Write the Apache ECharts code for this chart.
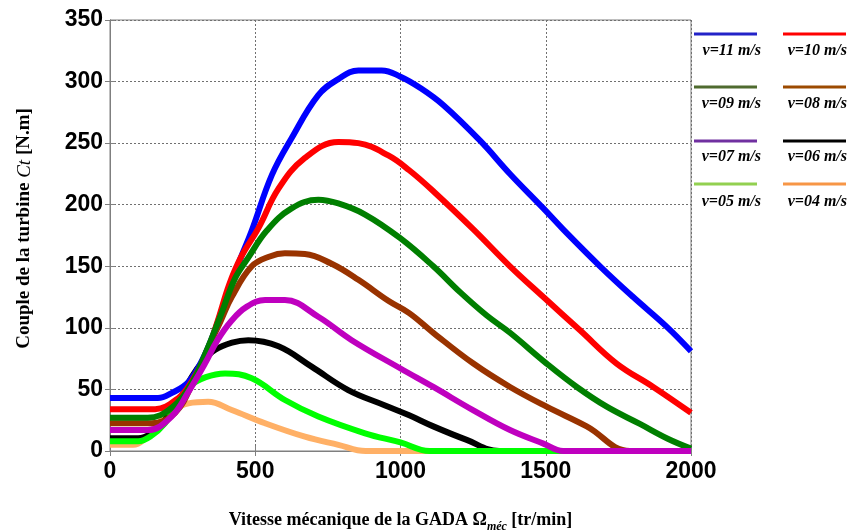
<!DOCTYPE html>
<html>
<head>
<meta charset="utf-8">
<script src="https://cdn.jsdelivr.net/npm/echarts@6/dist/echarts.min.js"></script>
<style>
html,body{margin:0;padding:0;background:#fff;}
#chart{width:849px;height:531px;}
</style>
</head>
<body>
<div id="chart"></div>
<script>
// Data (speed tr/min, torque N.m)
var xTicks = [0, 500, 1000, 1500, 2000];
var yTicks = [0, 50, 100, 150, 200, 250, 300, 350];
var seriesNames = ['v=11 m/s','v=10 m/s','v=09 m/s','v=08 m/s','v=07 m/s','v=06 m/s','v=05 m/s','v=04 m/s'];
var v11 = [[0,43],[100,43],[165,43],[212,47],[270,56],[320,75],[361,98],[400,125],[442,152],[488,179],[557,224],[625,254],[717,289],[786,302],[855,309],[935,309],[1000,304],[1067,295],[1147,281],[1274,252],[1377,225],[1492,197],[1560,180],[1687,150],[1801,125],[1916,101],[2000,81]];
var v10 = [[0,34],[100,34],[155,34],[235,43],[280,56],[330,78],[370,105],[410,135],[450,157],[511,181],[580,213],[671,238],[786,251],[855,250],[958,240],[1030,228],[1113,211],[1251,180],[1377,150],[1492,125],[1618,98],[1744,71],[1870,52],[2000,31]];
var v09 = [[0,27],[130,27],[212,35],[281,55],[330,80],[384,112],[430,140],[476,157],[540,179],[625,197],[717,204],[786,201],[878,192],[998,173],[1113,150],[1205,129],[1297,110],[1377,96],[1503,71],[1607,52],[1710,36],[1824,22],[1920,10],[2000,2]];
var v08 = [[0,22.5],[143,22.5],[224,31],[290,58],[340,85],[380,105],[419,125],[488,150],[550,158],[602,160.5],[671,160],[763,152],[855,139],[958,122],[1030,112],[1113,96],[1251,71],[1377,52],[1503,36],[1641,20],[1790,0],[2000,0]];
var v07 = [[0,17],[130,17],[212,28],[270,48],[327,71],[370,90],[419,106],[470,117],[534,122.6],[602,122.6],[717,109],[832,90],[1000,67],[1113,52],[1251,33],[1377,17],[1492,6],[1560,0],[2000,0]];
var v06 = [[0,10.3],[97,10.3],[140,14],[189,25],[240,42],[281,60],[320,73],[361,82],[420,88],[476,90],[580,85],[694,68.5],[820,49.5],[947,37],[1030,29],[1113,20],[1228,9],[1340,0],[2000,0]];
var v05 = [[0,8],[97,8],[140,12],[189,22.5],[230,38],[270,52],[330,60],[396,63],[488,59],[602,41.4],[717,28],[878,14.4],[1000,7],[1100,0],[2000,0]];
var v04 = [[0,5],[80,5],[120,10],[155,19.7],[210,32],[270,38.7],[338,40],[419,33.3],[534,22.5],[671,11.6],[786,5],[880,0],[2000,0]];

var lineColors = ['#0000ff','#ff0000','#007f00','#993300','#bf00bf','#000000','#00ff00','#ffb066'];
var legendColors = ['#2323c8','#ff0000','#4f6b2f','#9c4a00','#7030a0','#000000','#92d050','#f79646'];
var allData = [v11, v10, v09, v08, v07, v06, v05, v04];
// drawing order (bottom to top)
var drawOrder = [7, 5, 6, 3, 0, 1, 2, 4];

var chart = echarts.init(document.getElementById('chart'), null, {renderer: 'canvas'});

var series = drawOrder.map(function (i) {
  return {
    name: seriesNames[i],
    type: 'line',
    data: allData[i],
    showSymbol: false,
    smooth: 0.4,
    lineStyle: {color: lineColors[i], width: 6},
    itemStyle: {color: lineColors[i]},
    z: 2
  };
});

// legend drawn as graphic elements
var graphics = [];
var legX = [694, 783];
var legTextRight = [761, 847];
var legLineY = [34, 87, 141, 184];
var legTextY = [51, 104, 157, 202];
for (var k = 0; k < 8; k++) {
  var col = k % 2, row = Math.floor(k / 2);
  graphics.push({
    type: 'rect',
    z: 100,
    shape: {x: legX[col], y: legLineY[row] - 1.5, width: 63, height: 3},
    style: {fill: legendColors[k]}
  });
  graphics.push({
    type: 'text',
    z: 100,
    x: legTextRight[col],
    y: legTextY[row],
    style: {
      text: seriesNames[k],
      fontFamily: '"Liberation Serif", serif',
      fontStyle: 'italic',
      fontWeight: 'bold',
      fontSize: 16,
      fill: '#000',
      align: 'right',
      verticalAlign: 'middle'
    }
  });
}

var axisLineStyle = {color: '#7f7f7f', width: 1};
var labelFont = {color: '#000', fontSize: 23, fontWeight: 'bold', fontFamily: '"Liberation Sans", Arial, sans-serif',
  formatter: function (v) { return String(v); }};

chart.setOption({
  animation: false,
  backgroundColor: '#ffffff',
  grid: {left: 110, right: 158, top: 20, bottom: 80, containLabel: false, outerBoundsMode: 'none',
    show: true, borderColor: '#7f7f7f', borderWidth: 1, backgroundColor: '#fff'},
  xAxis: [{
    type: 'value', min: xTicks[0], max: xTicks[xTicks.length - 1], interval: 500,
    axisLine: {show: true, lineStyle: axisLineStyle},
    axisTick: {show: true, inside: true, length: 5, lineStyle: axisLineStyle},
    axisLabel: Object.assign({margin: 9}, labelFont),
    splitLine: {show: true, lineStyle: {color: '#707070', type: [2, 2], width: 1}},
    name: '{b|Vitesse mécanique de la GADA Ω}{s|méc}{b| [tr/min]}',
    nameLocation: 'middle', nameGap: 56,
    nameTextStyle: {
      rich: {
        b: {fontFamily: '"Liberation Serif", serif', fontWeight: 'bold', fontSize: 18, color: '#000', verticalAlign: 'bottom', lineHeight: 22},
        s: {fontFamily: '"Liberation Serif", serif', fontWeight: 'bold', fontStyle: 'italic', fontSize: 12, color: '#000', verticalAlign: 'bottom', lineHeight: 16, padding: [0,0,-4,0]}
      }
    }
  }, {
    type: 'value', position: 'top', min: xTicks[0], max: xTicks[xTicks.length - 1], interval: 500,
    axisLine: {show: true, lineStyle: axisLineStyle},
    axisTick: {show: true, inside: true, length: 5, lineStyle: axisLineStyle},
    axisLabel: {show: false}, splitLine: {show: false}
  }],
  yAxis: [{
    type: 'value', min: yTicks[0], max: yTicks[yTicks.length - 1], interval: 50,
    axisLine: {show: true, lineStyle: axisLineStyle},
    axisTick: {show: true, inside: true, length: 5, lineStyle: axisLineStyle},
    axisLabel: Object.assign({margin: 7}, labelFont),
    splitLine: {show: true, lineStyle: {color: '#707070', type: [2, 2], width: 1}},
    name: '{b|Couple de la turbine }{i|Ct}{b| [N.m]}',
    nameLocation: 'middle', nameGap: 76, nameRotate: 90,
    nameTextStyle: {
      padding: [0, 0, 0, 14],
      rich: {
        b: {fontFamily: '"Liberation Serif", serif', fontWeight: 'bold', fontSize: 19, color: '#000'},
        i: {fontFamily: '"Liberation Serif", serif', fontWeight: 'normal', fontStyle: 'italic', fontSize: 19, color: '#000'}
      }
    }
  }, {
    type: 'value', position: 'right', min: yTicks[0], max: yTicks[yTicks.length - 1], interval: 50,
    axisLine: {show: true, lineStyle: axisLineStyle},
    axisTick: {show: true, inside: true, length: 5, lineStyle: axisLineStyle},
    axisLabel: {show: false}, splitLine: {show: false}
  }],
  series: series,
  graphic: graphics
});
</script>
</body>
</html>
